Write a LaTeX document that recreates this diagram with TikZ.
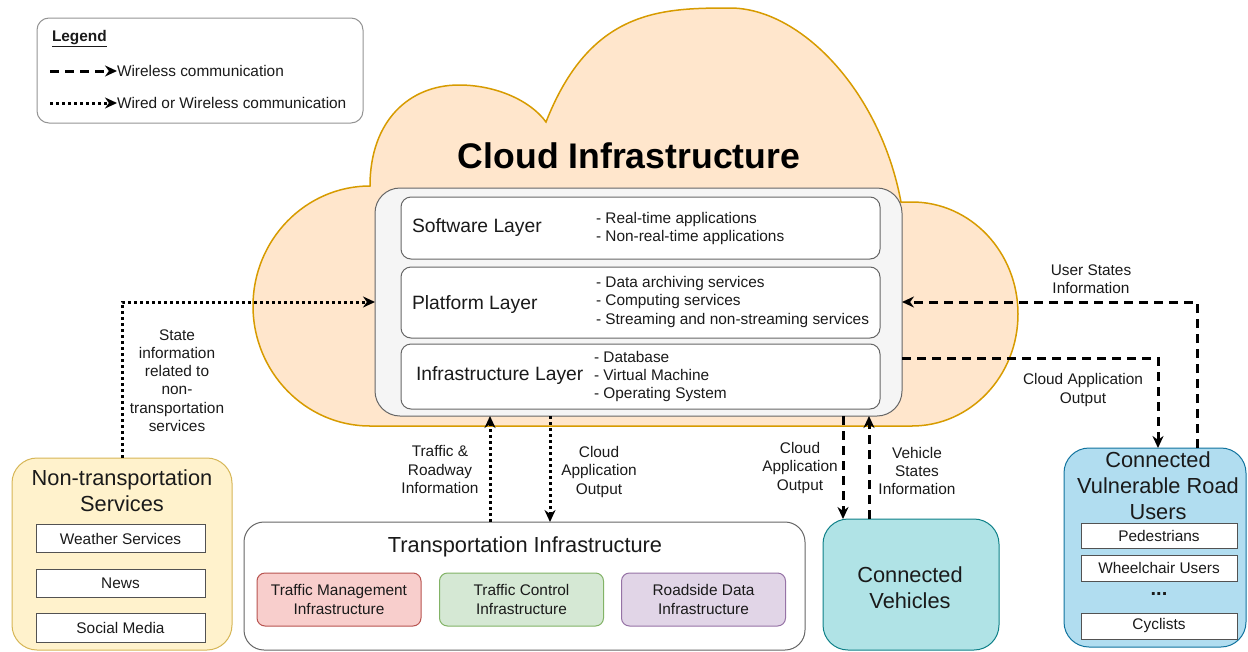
\documentclass[tikz,border=0pt]{standalone}
\usepackage{fontspec}
\setmainfont{Liberation Sans}
\usetikzlibrary{arrows.meta}
\definecolor{cloudfill}{HTML}{FFE6CC}
\definecolor{cloudline}{HTML}{D79B00}
\definecolor{boxgray}{HTML}{666666}
\definecolor{panelfill}{HTML}{F5F5F5}
\definecolor{ntsfill}{HTML}{FFF2CC}
\definecolor{ntsline}{HTML}{D6B656}
\definecolor{redfill}{HTML}{F8CECC}
\definecolor{redline}{HTML}{B85450}
\definecolor{greenfill}{HTML}{D5E8D4}
\definecolor{greenline}{HTML}{82B366}
\definecolor{purplefill}{HTML}{E1D5E7}
\definecolor{purpleline}{HTML}{9673A6}
\definecolor{cvfill}{HTML}{B0E3E6}
\definecolor{cvline}{HTML}{0E8088}
\definecolor{vrufill}{HTML}{B1DDF0}
\definecolor{vruline}{HTML}{10739E}
\definecolor{textc}{HTML}{1A1A1A}
\newcommand\myfs[2]{\fontsize{#1}{#2}\selectfont}
\begin{document}
\begin{tikzpicture}[x=1pt,y=-1pt,
  every node/.style={inner sep=0pt, outer sep=0pt, text=textc},
  small/.style={font=\myfs{15.4}{18.3}, align=center},
  smallleft/.style={font=\myfs{15.4}{18.3}, align=left},
  layername/.style={font=\myfs{19.3}{22}, anchor=west},
  big/.style={font=\myfs{21.8}{25.8}, align=center},
  grayrect/.style={draw=boxgray, line width=1pt, fill=white},
  subbox/.style={draw=boxgray!80!black, line width=1pt, fill=white, font=\myfs{15.4}{18.3}},
  layerbox/.style={draw=boxgray, line width=1pt, fill=white, rounded corners=10pt, minimum width=479pt},
  colbox/.style={line width=1pt, rounded corners=8pt, minimum width=164pt, minimum height=53pt, font=\myfs{15.4}{18.3}, align=center},
  wirelessarrow/.style={line width=3pt, dash pattern=on 9pt off 6pt, -{Stealth[length=12pt,width=11pt]}},
  wiredarrow/.style={line width=3pt, dash pattern=on 3pt off 3pt, -{Stealth[length=12pt,width=11pt]}}
]
\useasboundingbox (0,0) rectangle (1248,651);

% Legend
\node[grayrect, draw=boxgray!70, rounded corners=12pt, minimum width=326pt, minimum height=105pt] (legend) at (200,70.5) {};
\node[anchor=west, font=\myfs{15.4}{18.3}\bfseries] (legtitle) at (52,39) {\underline{Legend}};
\coordinate (lga) at (50,71);
\coordinate (lgb) at (117,71);
\coordinate (lgc) at (50,103);
\coordinate (lgd) at (117,103);
\draw[wirelessarrow] (lga) -- (lgb);
\draw[wiredarrow] (lgc) -- (lgd);
\node[anchor=west, small] (lgt1) at (117,71) {Wireless communication};
\node[anchor=west, small] (lgt2) at (117,103) {Wired or Wireless communication};

% Cloud
\path[draw=cloudline, fill=cloudfill, line width=1.5pt]
  (370,426) -- (912,426)
  .. controls (970.5,426) and (1018,376) .. (1018,314)
  .. controls (1018,252) and (970.5,202) .. (912,202)
  -- (901,202)
  .. controls (880,90) and (800,8) .. (730,8)
  .. controls (660,8) and (590,10) .. (546,122)
  .. controls (530,100) and (495,85) .. (459,85)
  .. controls (410,85) and (370,120) .. (370,186)
  .. controls (305.4,186) and (253,240) .. (253,306)
  .. controls (253,372) and (305.4,426) .. (370,426) -- cycle;
\node[font=\myfs{35.6}{40}\bfseries, text=black] (cloudtitle) at (629,156) {Cloud Infrastructure};

% Panel with layers
\node[draw=boxgray, line width=1pt, fill=panelfill, rounded corners=25pt, minimum width=527pt, minimum height=228pt] (cloudbox) at (638.5,302) {};
\node[layerbox, minimum height=62pt] (sw) at (640.5,228) {};
\node[layerbox, minimum height=71pt] (pf) at (640.5,302.5) {};
\node[layerbox, minimum height=65pt] (inf) at (640.5,376.5) {};
\node[layername] (swname) at (412,228) {Software Layer};
\node[layername] (pfname) at (412,305) {Platform Layer};
\node[layername] (infname) at (416,376) {Infrastructure Layer};
\node[smallleft, anchor=west] (switems) at (596,228.5) {- Real-time applications\\- Non-real-time applications};
\node[smallleft, anchor=west] (pfitems) at (596,302) {- Data archiving services\\- Computing services\\- Streaming and non-streaming services};
\node[smallleft, anchor=west] (infitems) at (594,376.5) {- Database\\- Virtual Machine\\- Operating System};

% Non-transportation services
\node[draw=ntsline, fill=ntsfill, line width=1pt, rounded corners=25pt, minimum width=220pt, minimum height=192pt] (nts) at (122,554) {};
\node[big] (ntstitle) at (122,490.5) {Non-transportation\\Services};
\node[subbox, minimum width=169pt, minimum height=28pt] (weather) at (120.5,538.5) {Weather Services};
\node[subbox, minimum width=169pt, minimum height=28pt] (news) at (120.5,583.5) {News};
\node[subbox, minimum width=169pt, minimum height=29pt] (social) at (120.5,627.5) {Social Media};

% Transportation infrastructure
\node[draw=boxgray, fill=white, line width=1pt, rounded corners=20pt, minimum width=561pt, minimum height=128pt] (ti) at (524.5,586) {};
\node[big] (tititle) at (525,547) {Transportation Infrastructure};
\node[colbox, draw=redline, fill=redfill] (tm) at (339,599.5) {Traffic Management\\Infrastructure};
\node[colbox, draw=greenline, fill=greenfill] (tc) at (521.5,599.5) {Traffic Control\\Infrastructure};
\node[colbox, draw=purpleline, fill=purplefill] (rd) at (703.5,599.5) {Roadside Data\\Infrastructure};

% Connected vehicles
\node[draw=cvline, fill=cvfill, line width=1pt, rounded corners=25pt, minimum width=176pt, minimum height=131pt] (cv) at (911,584.5) {};
\node[big] (cvtitle) at (910,587.5) {Connected\\Vehicles};

% Connected VRU
\node[draw=vruline, fill=vrufill, line width=1pt, rounded corners=25pt, minimum width=182pt, minimum height=199pt] (vru) at (1155,547.5) {};
\node[big] (vrutitle) at (1158,486) {Connected\\Vulnerable Road\\Users};
\node[subbox, minimum width=156pt, minimum height=25pt] (ped) at (1159,535.5) {Pedestrians};
\node[subbox, minimum width=156pt, minimum height=26pt] (wheel) at (1159,568) {Wheelchair Users};
\node[font=\myfs{20}{22}\bfseries] (dots) at (1159,594) {...};
\node[subbox, minimum width=156pt, minimum height=26pt] (cyc) at (1159,626) {Cyclists};

% Connectors
\draw[wiredarrow] (nts.north) |- (cloudbox.west);
\node[small] (lbl1) at (177,380.5) {State\\information\\related to\\non-\\transportation\\services};

\draw[wiredarrow] ([xshift=-34.5pt]ti.north) -- ([xshift=-148.5pt]cloudbox.south);
\node[small] (lbl2) at (440,469.5) {Traffic \&\\Roadway\\Information};
\draw[wiredarrow] ([xshift=-88.5pt]cloudbox.south) -- ([xshift=25.5pt]ti.north);
\node[small] (lbl3) at (599,472) {Cloud\\Application\\Output};

\draw[wirelessarrow] ([xshift=204.5pt]cloudbox.south) -- ([xshift=-68pt]cv.north);
\node[small] (lbl4) at (800,468) {Cloud\\Application\\Output};
\draw[wirelessarrow] ([xshift=-42pt]cv.north) -- ([xshift=230.5pt]cloudbox.south);
\node[small] (lbl5) at (917,471) {Vehicle\\States\\Information};

\draw[wirelessarrow] ([xshift=42pt]vru.north) |- (cloudbox.east);
\node[small] (lbl6) at (1091,279) {User States\\Information};
\draw[wirelessarrow] ([yshift=-56pt]cloudbox.east) -| ([xshift=3pt]vru.north);
\node[small] (lbl7) at (1083,390) {Cloud Application\\Output};
\end{tikzpicture}
\end{document}
